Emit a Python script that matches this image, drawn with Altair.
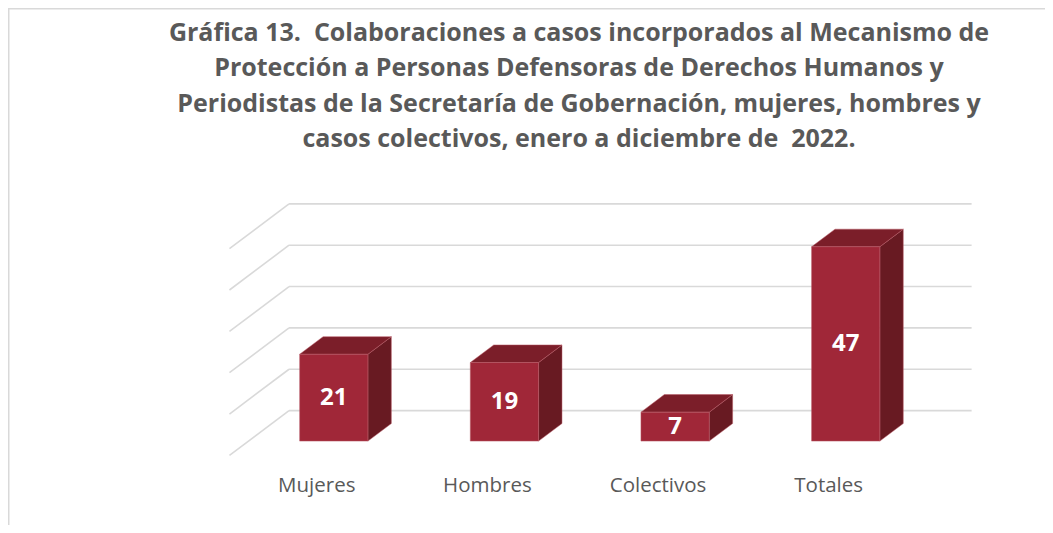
import altair as alt
import pandas as pd

# ---------------- data ----------------
CATEGORIES = ["Mujeres", "Hombres", "Colectivos", "Totales"]
VALUES = [21, 19, 7, 47]
GRID_TICKS = [0, 10, 20, 30, 40, 50]
TITLE_LINES = [
    "Gráfica 13.\u00a0 Colaboraciones a casos incorporados al Mecanismo de",
    "Protección a Personas Defensoras de Derechos Humanos y",
    "Periodistas de la Secretaría de Gobernación, mujeres, hombres y",
    "casos colectivos, enero a diciembre de\u00a0 2022.",
]

# ---------------- layout / style ----------------
W, H = 744, 306
SVG_W, SVG_H = 1037, 517
PAD_L, PAD_T = 220, 185
X_DOM = [-0.62, 3.74]
Y_DOM = [-14, 60]
KX = W / (X_DOM[1] - X_DOM[0])
KY = H / (Y_DOM[1] - Y_DOM[0])
RATIO = 1.33          # horizontal px per vertical px of depth
S_BAR = 17.6          # bar depth (px, vertical component)
S_BACK = 30.5         # back wall depth
S_FRONT = -14.3       # front edge of side wall
HALF = 0.2            # half bar width in category units

FRONT_C = "#A02738"
TOP_C = "#7B1E29"
SIDE_C = "#681A22"
EDGE_C = "#B85A66"
GRID_C = "#D9D9D9"
TEXT_C = "#595959"


def shift(s):
    return RATIO * s / KX, s / KY


xs = alt.Scale(domain=X_DOM, nice=False, zero=False)
ys = alt.Scale(domain=Y_DOM, nice=False, zero=False)

bars = pd.DataFrame({"idx": list(range(len(CATEGORIES))), "cat": CATEGORIES, "value": VALUES})
bars["L"] = bars["idx"] - HALF
bars["R"] = bars["idx"] + HALF
bars["half"] = bars["value"] / 2
bars["lab_x"] = bars["idx"] - 0.1

# faces of 3D bars
bdx, bdy = shift(S_BAR)
face_rows = []
for i, v in enumerate(VALUES):
    L, R = i - HALF, i + HALF
    fid = f"top{i}"
    face_rows += [
        dict(fid=fid, part="top", x=L, y=v, y2=v),
        dict(fid=fid, part="top", x=L + bdx, y=v, y2=v + bdy),
        dict(fid=fid, part="top", x=R, y=v, y2=v + bdy),
        dict(fid=fid, part="top", x=R + bdx, y=v + bdy, y2=v + bdy),
    ]
    fid = f"side{i}"
    face_rows += [
        dict(fid=fid, part="side", x=R, y=0, y2=v),
        dict(fid=fid, part="side", x=R + bdx, y=bdy, y2=v + bdy),
    ]
faces = pd.DataFrame(face_rows)

# gridlines
kdx, kdy = shift(S_BACK)
fdx, fdy = shift(S_FRONT)
grid = pd.DataFrame({"v": GRID_TICKS})
grid["bx1"] = -0.5 + kdx
grid["bx2"] = len(CATEGORIES) - 0.5 + kdx
grid["by"] = grid["v"] + kdy
grid["fx"] = -0.5 + fdx
grid["fy"] = grid["v"] + fdy

back_lines = alt.Chart(grid).mark_rule(color=GRID_C, strokeWidth=1.6).encode(
    x=alt.X("bx1:Q", scale=xs, axis=None),
    x2="bx2:Q",
    y=alt.Y("by:Q", scale=ys, axis=None),
)
side_lines = alt.Chart(grid).mark_rule(color=GRID_C, strokeWidth=1.6).encode(
    x=alt.X("fx:Q", scale=xs, axis=None),
    x2="bx1:Q",
    y=alt.Y("fy:Q", scale=ys, axis=None),
    y2="by:Q",
)

top_faces = alt.Chart(faces).transform_filter(alt.datum.part == "top").mark_area(
    color=TOP_C, interpolate="linear", stroke=EDGE_C, strokeWidth=0.5
).encode(
    x=alt.X("x:Q", scale=xs, axis=None),
    y=alt.Y("y:Q", scale=ys, axis=None),
    y2="y2:Q",
    detail="fid:N",
)
side_faces = alt.Chart(faces).transform_filter(alt.datum.part == "side").mark_area(
    color=SIDE_C, interpolate="linear", stroke=EDGE_C, strokeWidth=0.5
).encode(
    x=alt.X("x:Q", scale=xs, axis=None),
    y=alt.Y("y:Q", scale=ys, axis=None),
    y2="y2:Q",
    detail="fid:N",
)
front_faces = alt.Chart(bars).mark_rect(color=FRONT_C, stroke=EDGE_C, strokeWidth=0.5).encode(
    x=alt.X("L:Q", scale=xs, axis=None),
    x2="R:Q",
    y=alt.Y("value:Q", scale=ys, axis=None),
    y2=alt.datum(0),
)

value_labels = alt.Chart(bars).mark_text(
    font="Open Sans", fontWeight="bold", fontSize=24, color="white", baseline="middle", align="center"
).encode(
    x=alt.X("idx:Q", scale=xs, axis=None),
    y=alt.Y("half:Q", scale=ys, axis=None),
    text="value:Q",
)

cat_labels = alt.Chart(bars).mark_text(
    font="Open Sans", fontSize=20.5, color=TEXT_C, baseline="alphabetic", align="center"
).encode(
    x=alt.X("lab_x:Q", scale=xs, axis=None),
    y=alt.value(299.3),
    text="cat:N",
)

one = pd.DataFrame({"k": [0]})
title = alt.Chart(one).mark_text(
    font="Open Sans",
    fontWeight="bold",
    fontSize=25,
    color=TEXT_C,
    align="center",
    baseline="alphabetic",
    lineHeight=35.3,
).encode(
    x=alt.value(351),
    y=alt.value(-152),
    text=alt.value(TITLE_LINES),
)

border_top = alt.Chart(one).mark_rule(color=GRID_C, strokeWidth=2).encode(
    x=alt.value(-PAD_L), x2=alt.value(SVG_W - PAD_L), y=alt.value(-PAD_T + 0.5)
)
border_left = alt.Chart(one).mark_rule(color=GRID_C, strokeWidth=2).encode(
    x=alt.value(-PAD_L + 0.5), y=alt.value(-PAD_T), y2=alt.value(SVG_H - PAD_T)
)

chart = alt.layer(
    border_top, border_left, back_lines, side_lines,
    side_faces, top_faces, front_faces, value_labels, cat_labels, title,
).properties(
    width=W,
    height=H,
    autosize=alt.AutoSizeParams(type="none"),
    padding={"left": PAD_L, "top": PAD_T, "right": SVG_W - PAD_L - W, "bottom": SVG_H - PAD_T - H},
    background="white",
).configure_view(stroke=None)

chart.save("out.html", embed_options={"renderer": "svg", "actions": False})
